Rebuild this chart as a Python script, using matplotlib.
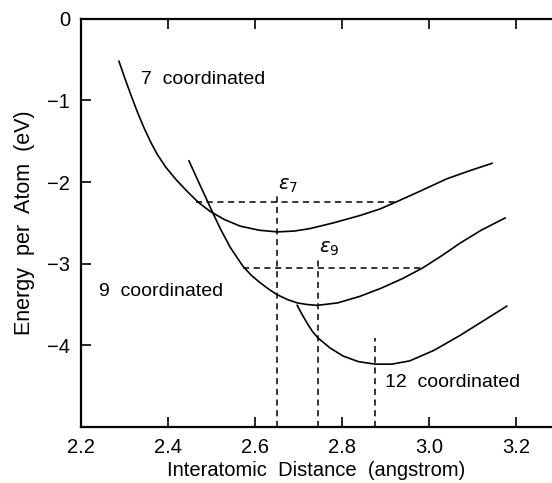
import matplotlib
matplotlib.use('Agg')
import matplotlib.pyplot as plt

# curves
x7 = [2.287, 2.300, 2.315, 2.330, 2.345, 2.360, 2.375, 2.395, 2.420, 2.445, 2.470, 2.497, 2.530,
      2.566, 2.610, 2.651, 2.690, 2.726, 2.780, 2.841, 2.887, 2.926, 2.980, 3.041, 3.094, 3.145]
y7 = [-0.52, -0.72, -0.94, -1.15, -1.34, -1.51, -1.66, -1.82, -1.98, -2.12, -2.25, -2.36, -2.46,
      -2.54, -2.59, -2.61, -2.60, -2.57, -2.50, -2.41, -2.33, -2.24, -2.11, -1.96, -1.86, -1.77]

x9 = [2.448, 2.460, 2.472, 2.485, 2.497, 2.520, 2.543, 2.572, 2.591, 2.611, 2.631, 2.651, 2.675,
      2.697, 2.720, 2.743, 2.790, 2.841, 2.890, 2.940, 2.986, 3.030, 3.071, 3.120, 3.175]
y9 = [-1.74, -1.88, -2.02, -2.17, -2.31, -2.57, -2.80, -3.03, -3.14, -3.23, -3.31, -3.38, -3.44,
      -3.48, -3.50, -3.51, -3.48, -3.40, -3.30, -3.18, -3.05, -2.90, -2.75, -2.59, -2.44]

x12 = [2.697, 2.708, 2.720, 2.732, 2.745, 2.772, 2.802, 2.838, 2.876, 2.915, 2.956, 3.012, 3.071,
       3.125, 3.179]
y12 = [-3.51, -3.62, -3.73, -3.83, -3.91, -4.03, -4.13, -4.20, -4.23, -4.23, -4.19, -4.06, -3.88,
       -3.70, -3.52]

# dashed construction lines
eps7_x, eps7_y, eps7_span = 2.65, -2.24, (2.464, 2.926)
eps9_x, eps9_y, eps9_span = 2.745, -3.05, (2.572, 2.986)
min12_x, min12_top = 2.875, -3.91
eps7_top, eps9_top = -2.17, -2.94

plt.rcParams['font.family'] = ['Liberation Sans', 'DejaVu Sans']
plt.rcParams['mathtext.fontset'] = 'dejavusans'

fig = plt.figure(figsize=(5.52, 4.83), dpi=100)
ax = fig.add_axes([0.147, 0.116, 0.853, 0.845])

lw = 1.2
ax.plot(x7, y7, 'k', lw=lw)
ax.plot(x9, y9, 'k', lw=lw)
ax.plot(x12, y12, 'k', lw=lw)

dash = dict(color='k', lw=1.1, linestyle=(0, (4, 3)))
ax.plot(eps7_span, [eps7_y, eps7_y], **dash)
ax.plot(eps9_span, [eps9_y, eps9_y], **dash)
ax.plot([eps7_x, eps7_x], [-5, eps7_top], **dash)
ax.plot([eps9_x, eps9_x], [-5, eps9_top], **dash)
ax.plot([min12_x, min12_x], [-5, min12_top], **dash)

ax.text(eps7_x + 0.002, eps7_top + 0.01, r'$\varepsilon_{7}$', fontsize=14, va='bottom')
ax.text(eps9_x + 0.002, eps9_top + 0.01, r'$\varepsilon_{9}$', fontsize=14, va='bottom')

ax.text(2.337, -0.74, '7  coordinated', fontsize=14, va='center')
ax.text(2.241, -3.34, '9  coordinated', fontsize=14, va='center')
ax.text(2.899, -4.46, '12  coordinated', fontsize=14, va='center')

ax.set_xlim(2.2, 3.283)
ax.set_ylim(-5, 0)
ax.set_xticks([2.2, 2.4, 2.6, 2.8, 3.0, 3.2])
ax.set_xticklabels(['2.2', '2.4', '2.6', '2.8', '3.0', '3.2'])
ax.set_yticks([0, -1, -2, -3, -4])
ax.set_yticklabels(['0', '\u22121', '\u22122', '\u22123', '\u22124'])
ax.tick_params(direction='in', length=7, width=1.2, top=True, labelsize=14.5, pad=8)
ax.spines['right'].set_visible(False)
for s in ['left', 'bottom', 'top']:
    ax.spines[s].set_linewidth(1.6)

ax.set_xlabel('Interatomic  Distance  (angstrom)', fontsize=14.5, labelpad=3)
ax.set_ylabel('Energy  per  Atom  (eV)', fontsize=15.5, labelpad=9)

fig.savefig('out.png', dpi=100)
